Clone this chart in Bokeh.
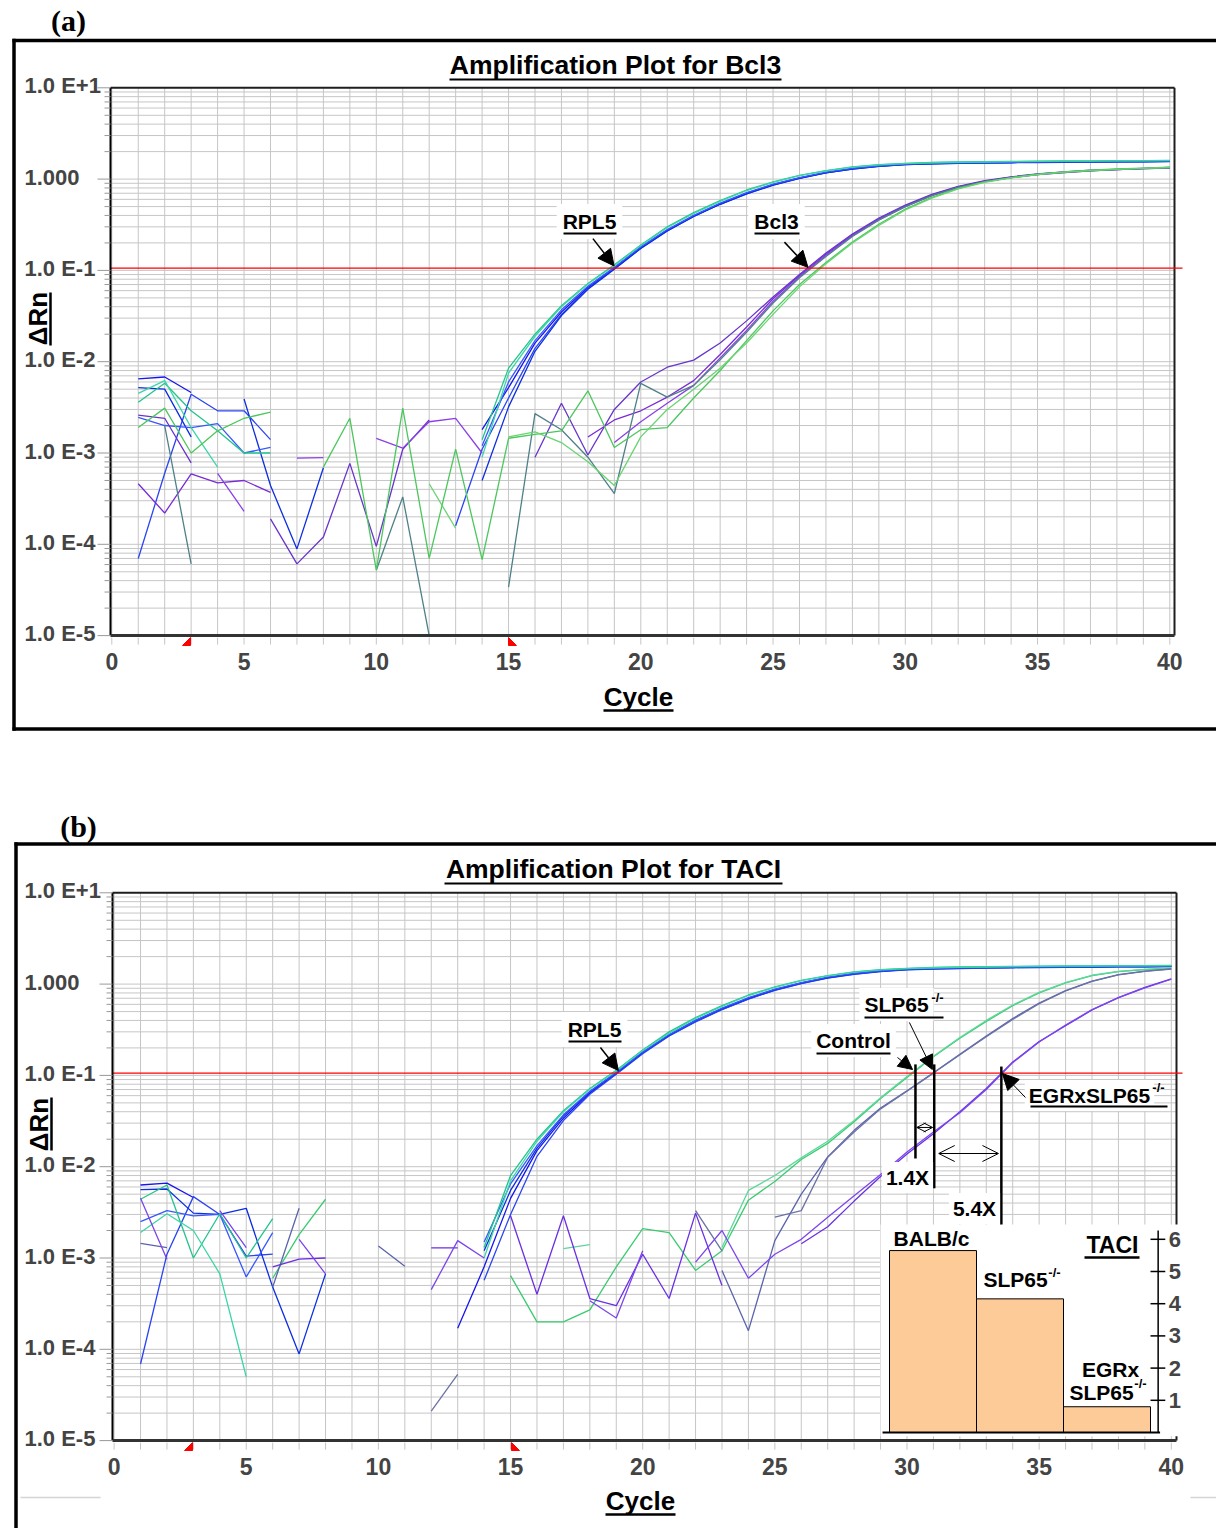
import math
import numpy as np
from bokeh.plotting import figure
from bokeh.layouts import column
from bokeh.models import (Arrow, Label, LinearScale, LogScale, NormalHead, OpenHead, Range1d)
from bokeh.embed import file_html
from bokeh.resources import INLINE

n = float("nan")  # negative readings are not drawn on the log axis

cycles = list(range(1, 41))
cycle_ticks = list(range(0, 41, 5))
cycle_minor = list(range(0, 41))
decades = [1e-5, 1e-4, 1e-3, 1e-2, 1e-1, 1e0, 1e1]
decade_labels = ["1.0 E-5", "1.0 E-4", "1.0 E-3", "1.0 E-2", "1.0 E-1", "1.000", "1.0 E+1"]
threshold = 0.106

# ---------------- (a) Bcl3 run: delta Rn per cycle 1..40 ----------------
a_rpl5_1 = [6.5e-3, 6.8e-3, 4.6e-3, n, n, n, n, n, n, n,
            n, n, n, 1.8e-3, 5.2e-3, 0.016, 0.035, 0.065, 0.106, 0.178,
            0.275, 0.395, 0.535, 0.70, 0.87, 1.03, 1.18, 1.30, 1.39, 1.45,
            1.48, 1.50, 1.51, 1.52, 1.53, 1.54, 1.54, 1.55, 1.55, 1.56]
a_rpl5_2 = [7.0e-5, 6.0e-4, 4.4e-3, 2.9e-3, 2.9e-3, 1.4e-3, n, n, n, n,
            n, n, 1.6e-4, 1.1e-3, 4.0e-3, 0.014, 0.033, 0.063, 0.104, 0.175,
            0.27, 0.39, 0.53, 0.69, 0.86, 1.02, 1.17, 1.29, 1.38, 1.44,
            1.47, 1.49, 1.50, 1.51, 1.52, 1.53, 1.53, 1.54, 1.54, 1.55]
a_rpl5_3 = [5.2e-3, 5.0e-3, 1.5e-3, n, 3.9e-3, 4.4e-4, 8.9e-5, 6.9e-4, n, n,
            n, n, n, 5.0e-4, 3.2e-3, 0.013, 0.032, 0.062, 0.103, 0.174,
            0.27, 0.39, 0.53, 0.69, 0.86, 1.02, 1.17, 1.29, 1.38, 1.44,
            1.47, 1.49, 1.51, 1.52, 1.53, 1.54, 1.55, 1.55, 1.56, 1.57]
a_rpl5_4 = [2.45e-3, 2.0e-3, 1.9e-3, 2.1e-3, 1.0e-3, 1.15e-3, n, n, n, n,
            n, n, n, 1.2e-3, 6.0e-3, 0.017, 0.037, 0.067, 0.108, 0.181,
            0.28, 0.40, 0.545, 0.71, 0.88, 1.04, 1.19, 1.31, 1.40, 1.46,
            1.49, 1.51, 1.52, 1.53, 1.54, 1.55, 1.55, 1.56, 1.57, 1.58]
a_rpl5_5 = [3.6e-3, 5.8e-3, 2.9e-3, 1.75e-3, 1.0e-3, 1.0e-3, n, n, n, n,
            n, n, n, 1.4e-3, 8.5e-3, 0.020, 0.041, 0.072, 0.115, 0.19,
            0.30, 0.43, 0.58, 0.76, 0.93, 1.10, 1.24, 1.36, 1.44, 1.49,
            1.52, 1.54, 1.55, 1.56, 1.57, 1.58, 1.58, 1.59, 1.59, 1.60]
a_rpl5_6 = [4.5e-3, 6.2e-3, 1.9e-3, 7.0e-4, n, n, n, n, n, n,
            n, n, n, 9.0e-4, 7.5e-3, 0.019, 0.040, 0.071, 0.113, 0.188,
            0.295, 0.42, 0.57, 0.75, 0.92, 1.09, 1.23, 1.35, 1.43, 1.48,
            1.51, 1.53, 1.54, 1.55, 1.56, 1.57, 1.57, 1.58, 1.58, 1.59]
a_bcl3_1 = [4.6e-4, 2.2e-4, 5.9e-4, 4.7e-4, 5.0e-4, 3.7e-4, n, n, n, n,
            n, n, n, n, n, n, n, 1.5e-3, 2.3e-3, 2.9e-3,
            4.1e-3, 6.2e-3, 0.012, 0.024, 0.049, 0.088, 0.15, 0.245, 0.365, 0.51,
            0.67, 0.82, 0.95, 1.05, 1.13, 1.19, 1.24, 1.27, 1.30, 1.32]
a_bcl3_2 = [2.6e-3, 2.4e-3, 7.8e-4, n, n, 1.9e-4, 6.1e-5, 1.2e-4, 7.7e-4, 9.5e-5,
            1.1e-3, 2.3e-3, n, n, n, 9.0e-4, 3.5e-3, 9.5e-4, 3.0e-3, 6.0e-3,
            8.7e-3, 0.0104, 0.016, 0.028, 0.051, 0.090, 0.155, 0.25, 0.375, 0.52,
            0.68, 0.83, 0.96, 1.06, 1.14, 1.20, 1.25, 1.28, 1.31, 1.34]
a_bcl3_3 = [n, n, n, 6.0e-4, 2.3e-4, n, 8.8e-4, 8.9e-4, n, 1.45e-3,
            1.13e-3, 2.2e-3, 2.4e-3, 1.0e-3, n, n, n, n, 1.3e-3, 2.2e-3,
            3.5e-3, 5.5e-3, 0.011, 0.022, 0.046, 0.085, 0.146, 0.24, 0.36, 0.50,
            0.66, 0.81, 0.94, 1.04, 1.12, 1.18, 1.23, 1.27, 1.30, 1.32]
a_bcl3_4 = [n, 2.0e-3, 6.1e-5, n, n, n, n, n, n, 5.2e-5,
            3.3e-4, 1.0e-5, n, n, 3.4e-5, 2.7e-3, 1.8e-3, 9.0e-4, 3.6e-4, 5.8e-3,
            4.1e-3, 5.5e-3, 0.0105, 0.021, 0.044, 0.083, 0.142, 0.235, 0.355, 0.50,
            0.66, 0.81, 0.94, 1.04, 1.12, 1.18, 1.23, 1.27, 1.30, 1.33]
a_bcl3_5 = [1.9e-3, 3.1e-3, 1.0e-3, 1.75e-3, 2.4e-3, 2.8e-3, n, 7.0e-4, 2.4e-3, 5.2e-5,
            3.1e-3, 7.0e-5, 1.1e-3, 6.8e-5, 1.45e-3, 1.6e-3, 1.75e-3, 4.8e-3, 1.15e-3, 1.8e-3,
            1.9e-3, 4.0e-3, 8.0e-3, 0.017, 0.036, 0.070, 0.122, 0.205, 0.32, 0.47,
            0.63, 0.79, 0.93, 1.04, 1.13, 1.20, 1.25, 1.29, 1.32, 1.35]
a_bcl3_6 = [n, n, n, n, n, n, n, n, n, n,
            n, 4.6e-4, 1.5e-4, n, 1.5e-3, 1.7e-3, 1.3e-3, 8.0e-4, 4.4e-4, 1.5e-3,
            3.0e-3, 5.0e-3, 8.5e-3, 0.016, 0.033, 0.066, 0.118, 0.20, 0.31, 0.46,
            0.62, 0.78, 0.92, 1.03, 1.12, 1.19, 1.24, 1.28, 1.31, 1.34]

a_curves = [a_rpl5_1, a_rpl5_2, a_rpl5_3, a_rpl5_4, a_rpl5_5, a_rpl5_6,
            a_bcl3_1, a_bcl3_2, a_bcl3_3, a_bcl3_4, a_bcl3_5, a_bcl3_6]
a_colors = ["#1515f0", "#2a44f2", "#0c2ee0", "#3858ff", "#22c48c", "#3bd6a8",
            "#7a2ad6", "#6834cc", "#8a40e6", "#4f8088", "#4cc75c", "#68d470"]

# ---------------- (b) TACI run: delta Rn per cycle 1..40 ----------------
b_rpl5_1 = [6.3e-3, 6.6e-3, 4.6e-3, n, n, n, n, n, n, n,
            n, n, 1.7e-4, 8.0e-4, 4.5e-3, 0.015, 0.034, 0.064, 0.105, 0.176,
            0.272, 0.39, 0.53, 0.69, 0.86, 1.02, 1.17, 1.29, 1.38, 1.44,
            1.47, 1.49, 1.51, 1.52, 1.53, 1.54, 1.54, 1.55, 1.55, 1.56]
b_rpl5_2 = [6.9e-5, 1.1e-3, 4.7e-3, 3.0e-3, 1.05e-3, 1.1e-3, n, n, n, n,
            n, n, n, 5.7e-4, 3.0e-3, 0.013, 0.032, 0.062, 0.103, 0.173,
            0.27, 0.385, 0.525, 0.685, 0.855, 1.01, 1.16, 1.28, 1.37, 1.43,
            1.46, 1.48, 1.50, 1.51, 1.52, 1.53, 1.53, 1.54, 1.54, 1.55]
b_rpl5_3 = [5.6e-3, 5.7e-3, 3.1e-3, 3.0e-3, 3.5e-3, 4.8e-4, 8.9e-5, 6.7e-4, n, n,
            n, n, n, 1.2e-3, 5.5e-3, 0.016, 0.036, 0.066, 0.107, 0.179,
            0.277, 0.40, 0.54, 0.70, 0.87, 1.03, 1.18, 1.30, 1.39, 1.45,
            1.48, 1.50, 1.52, 1.53, 1.54, 1.55, 1.55, 1.56, 1.56, 1.57]
b_rpl5_4 = [2.5e-3, 3.3e-3, 2.9e-3, 3.0e-3, 6.2e-4, 1.9e-3, n, n, n, n,
            n, n, n, 1.5e-3, 6.5e-3, 0.017, 0.037, 0.067, 0.108, 0.180,
            0.28, 0.40, 0.545, 0.71, 0.88, 1.04, 1.19, 1.31, 1.40, 1.46,
            1.49, 1.51, 1.52, 1.53, 1.54, 1.55, 1.56, 1.56, 1.57, 1.58]
b_rpl5_5 = [4.4e-3, 6.3e-3, 1.0e-3, 3.05e-3, 1.0e-3, 2.7e-3, n, n, n, n,
            n, n, n, 1.3e-3, 8.0e-3, 0.020, 0.041, 0.072, 0.114, 0.190,
            0.30, 0.43, 0.58, 0.76, 0.93, 1.10, 1.24, 1.36, 1.44, 1.49,
            1.52, 1.54, 1.55, 1.56, 1.57, 1.58, 1.58, 1.59, 1.59, 1.60]
b_rpl5_6 = [1.9e-3, 3.05e-3, 2.0e-3, 6.7e-4, 5.0e-5, n, n, n, n, n,
            n, n, n, 1.0e-3, 7.0e-3, 0.019, 0.040, 0.071, 0.112, 0.187,
            0.29, 0.42, 0.57, 0.75, 0.92, 1.09, 1.23, 1.35, 1.43, 1.48,
            1.51, 1.53, 1.54, 1.55, 1.56, 1.57, 1.57, 1.58, 1.58, 1.59]
b_ctl_1 = [n, n, n, n, n, 6.0e-4, 1.8e-3, 4.4e-3, n, n,
           n, n, n, n, 6.4e-4, 2.0e-4, 2.0e-4, 2.7e-4, 8.0e-4, 2.1e-3,
           1.9e-3, 7.3e-4, 1.2e-3, 4.3e-3, 6.9e-3, 0.012, 0.018, 0.031, 0.056, 0.095,
           0.16, 0.255, 0.39, 0.58, 0.80, 1.03, 1.24, 1.37, 1.44, 1.49]
b_ctl_2 = [n, n, n, n, n, n, n, n, n, n,
           n, n, n, n, n, n, 1.27e-3, 1.4e-3, n, n,
           n, n, 1.3e-3, 5.5e-3, 8.0e-3, 0.0125, 0.019, 0.032, 0.057, 0.097,
           0.162, 0.26, 0.40, 0.59, 0.81, 1.04, 1.25, 1.38, 1.45, 1.50]
b_slp_1 = [1.45e-3, 1.3e-3, n, n, n, 4.8e-4, 3.5e-3, n, n, 1.35e-3,
           8.1e-4, n, n, n, n, n, n, n, n, n,
           n, n, 7.3e-4, 1.6e-4, 1.55e-3, 5.0e-3, 0.0128, 0.025, 0.044, 0.068,
           0.107, 0.17, 0.27, 0.42, 0.62, 0.85, 1.08, 1.27, 1.39, 1.47]
b_slp_2 = [n, n, n, n, n, n, n, n, n, n,
           n, 2.1e-5, 5.3e-5, n, n, n, n, n, n, n,
           n, 3.3e-3, 1.2e-3, n, 2.8e-3, 3.3e-3, 0.0127, 0.024, 0.043, 0.067,
           0.106, 0.168, 0.265, 0.41, 0.61, 0.84, 1.07, 1.26, 1.38, 1.46]
b_egr_1 = [n, n, n, n, n, 8.0e-4, 9.7e-4, 1.0e-3, n, n,
           n, 1.29e-3, 1.29e-3, n, 2.9e-3, 4.0e-4, 2.9e-3, 3.6e-4, 3.0e-4, 1.1e-3,
           3.6e-4, 3.1e-3, 5.0e-4, n, n, 1.43e-3, 2.2e-3, 4.2e-3, 7.8e-3, 0.0138,
           0.023, 0.040, 0.072, 0.14, 0.235, 0.35, 0.52, 0.71, 0.92, 1.14]
b_egr_2 = [4.5e-3, 9.7e-4, n, 3.3e-3, 1.3e-3, n, 1.6e-3, 6.7e-4, n, n,
           n, 4.5e-4, 1.55e-3, 1.0e-3, n, n, n, 3.4e-4, 2.2e-4, 1.2e-3,
           n, 9.0e-4, 2.0e-3, 6.0e-4, 1.1e-3, 1.6e-3, 2.8e-3, 4.8e-3, 8.2e-3, 0.0145,
           0.024, 0.039, 0.070, 0.138, 0.232, 0.355, 0.525, 0.71, 0.91, 1.13]

b_curves = [b_rpl5_1, b_rpl5_2, b_rpl5_3, b_rpl5_4, b_rpl5_5, b_rpl5_6,
            b_ctl_1, b_ctl_2, b_slp_1, b_slp_2, b_egr_1, b_egr_2]
b_colors = ["#1515f0", "#2a44f2", "#0c2ee0", "#3858ff", "#22c48c", "#3bd6a8",
            "#3acb70", "#5cd79a", "#5b63ad", "#6b72a6", "#6a2fe2", "#7c45ec"]

# threshold cycles of the TACI groups
ct_control, ct_slp65, ct_egr = 30.32, 31.03, 33.57

# TACI relative expression (inset)
taci_groups = ["BALB/c", "SLP65-/-", "EGRxSLP65-/-"]
taci_level = [5.65, 4.15, 0.80]
taci_ticks = [1, 2, 3, 4, 5, 6]

FONT = "Liberation Sans"
SERIF = "Liberation Serif"
GRID = "#c6c6c6"
minor_logs = [m * 10.0 ** k for k in range(-5, 1) for m in range(2, 10)]
PX = dict(x_range_name="px", y_range_name="py")


class Panel:
    """One amplification plot. The frame fills the canvas; the log plot area is
    placed by the ranges, and page-pixel items use the 'px'/'py' ranges."""

    def __init__(self, top, height, x0, k, y_ten, dec, left, right):
        self.left, self.right = left, right
        self.y_bot = y_ten + 6 * dec
        self.x_lo, self.x_hi = (left - x0) / k, (right - x0) / k
        self.x0, self.k = x0, k
        p = figure(width=1216, height=height,
                   x_range=Range1d(-x0 / k, (1216 - x0) / k),
                   y_range=Range1d(10 ** (1 - (top + height - y_ten) / dec),
                                   10 ** (1 + (y_ten - top) / dec)),
                   y_axis_type="log", x_axis_location=None, y_axis_location=None,
                   output_backend="svg", toolbar_location=None, min_border=0, title=None)
        p.y_scale = LogScale()
        p.outline_line_color = None
        p.background_fill_color = "white"
        p.border_fill_color = "white"
        p.xgrid.visible = False
        p.ygrid.visible = False
        p.extra_x_ranges = {"px": Range1d(0, 1216)}
        p.extra_y_ranges = {"py": Range1d(top + height, top)}
        p.extra_x_scales = {"px": LinearScale()}
        p.extra_y_scales = {"py": LinearScale()}
        self.p = p

    def cyc(self, X):
        return (X - self.x0) / self.k

    def grid(self):
        p = self.p
        p.segment(x0=cycle_minor, y0=[1e-5] * len(cycle_minor), x1=cycle_minor,
                  y1=[10] * len(cycle_minor), line_color=GRID, line_width=1)
        ys = decades[1:-1] + minor_logs
        p.segment(x0=[self.x_lo] * len(ys), y0=ys, x1=[self.x_hi] * len(ys), y1=ys,
                  line_color=GRID, line_width=1)
        p.segment(x0=[self.x_lo, self.x_hi], y0=[10, 10], x1=[self.x_hi, self.x_hi],
                  y1=[10, 1e-5], line_color="#1e1e1e", line_width=2)

    def curves(self, series, colors, thr_right):
        p = self.p
        for vals, col in zip(series, colors):
            p.line(cycles, np.array(vals, dtype=float), line_color=col, line_width=1.3)
        p.segment(x0=[self.x_lo], y0=[threshold], x1=[self.cyc(thr_right)], y1=[threshold],
                  line_color="#ff0000", line_width=1.3)

    def axes(self):
        p = self.p
        p.segment(x0=[self.x_lo], y0=[1e-5], x1=[self.x_lo], y1=[10],
                  line_color="black", line_width=2)
        p.segment(x0=[self.x_lo], y0=[1e-5], x1=[self.x_hi], y1=[1e-5],
                  line_color="#333333", line_width=3)
        p.segment(x0=cycle_minor, y0=[self.y_bot + 2] * len(cycle_minor), x1=cycle_minor,
                  y1=[self.y_bot + 9] * len(cycle_minor), line_color=GRID, line_width=1,
                  y_range_name="py")
        p.segment(x0=[self.left - 13] * len(decades), y0=decades,
                  x1=[self.left] * len(decades), y1=decades,
                  line_color="#999999", line_width=1, x_range_name="px")
        p.segment(x0=[self.left - 6] * len(minor_logs), y0=minor_logs,
                  x1=[self.left] * len(minor_logs), y1=minor_logs,
                  line_color="#999999", line_width=1, x_range_name="px")
        for c in cycle_ticks:
            p.add_layout(Label(x=c, y=self.y_bot + 26, y_range_name="py", text=str(c),
                               text_font=FONT, text_font_style="bold", text_font_size="23px",
                               text_align="center", text_baseline="middle"))
        for v, s in zip(decades, decade_labels):
            p.add_layout(Label(x=24, x_range_name="px", y=v, text=s,
                               text_font=FONT, text_font_style="bold", text_font_size="22px",
                               text_align="left", text_baseline="middle", y_offset=2))

    def text(self, X, Y, s, size, font=FONT, align="center", angle=0.0, bg=None, pad=0):
        lab = Label(x=X, y=Y, text=s, text_font=font, text_font_style="bold",
                    text_font_size=f"{size}px", text_color="black", text_align=align,
                    text_baseline="middle", angle=angle, **PX)
        if bg is not None:
            lab.background_fill_color = bg
            lab.padding = pad
        self.p.add_layout(lab)

    def rule(self, X0, Y0, X1, Y1, width=2.0, color="black"):
        self.p.add_layout(Arrow(x_start=X0, y_start=Y0, x_end=X1, y_end=Y1, start=None,
                                end=None, line_color=color, line_width=width, **PX))

    def flag(self, xs, ys):
        self.p.patch(xs, ys, fill_color="red", line_color="red", line_width=1, **PX)

    def pointer(self, x0, y0, x1, y1, size=16, width=1.5):
        self.p.add_layout(Arrow(x_start=x0, y_start=y0, x_end=x1, y_end=y1,
                                end=NormalHead(size=size, fill_color="black",
                                               line_color="black"),
                                line_color="black", line_width=width))


# ================= panel (a) =================
A = Panel(top=0, height=786, x0=111.3, k=26.45, y_ten=87.3, dec=91.3, left=110, right=1174)
A.grid()
A.curves(a_curves, a_colors, thr_right=1182)
A.axes()
pa = A.p
pa.segment(x0=[13.5, 12, 12], y0=[38.3, 40, 728.5], x1=[13.5, 1216, 1216],
           y1=[730.2, 40, 728.5], line_color="black", line_width=3.5, **PX)
A.flag([182, 190, 190], [645, 645, 637])
A.flag([508, 508, 516], [637, 645, 645])
A.text(68, 20, "(a)", 30, font=SERIF)
A.text(615, 64, "Amplification Plot for Bcl3", 26.5)
A.rule(449, 79, 781, 79, 2)
A.text(37, 318, "\u0394Rn", 26, angle=math.pi / 2)
A.rule(50, 292, 50, 345, 2.5)
A.text(638, 696, "Cycle", 26)
A.rule(603, 710, 673, 710, 2.5)
A.text(589, 221, "RPL5", 21, bg="white", pad=6)
A.rule(563, 233, 616, 233, 2)
A.text(776, 221, "Bcl3", 21, bg="white", pad=6)
A.rule(754, 233, 799, 233, 2)
A.pointer(18.19, 0.223, 18.99, 0.112)
A.pointer(25.43, 0.204, 26.32, 0.108)

# ================= panel (b) =================
B = Panel(top=786, height=742, x0=113.6, k=26.43, y_ten=892.3, dec=91.3, left=112, right=1176)
B.grid()
B.curves(b_curves, b_colors, thr_right=1182)
B.axes()
pb = B.p

for ct, v_top, v_bot in [(ct_control, 0.132, 0.0123), (ct_slp65, 0.132, 5.8e-3),
                         (ct_egr, 0.125, 2.2e-3)]:
    pb.segment(x0=[ct], y0=[v_top], x1=[ct], y1=[v_bot], line_color="black", line_width=2.5)

# inset bar chart, mapped through its own linear ranges
BAR_X0, BAR_W = 889.0, 87.0     # page x of first bar's left edge, px per bar
BAR_Y0, BAR_U = 1432.0, 32.2    # page y of the zero line, px per unit
pb.extra_x_ranges["bx"] = Range1d((0 - BAR_X0) / BAR_W, (1216 - BAR_X0) / BAR_W)
pb.extra_y_ranges["by"] = Range1d((BAR_Y0 - 1528) / BAR_U, (BAR_Y0 - 786) / BAR_U)
pb.extra_x_scales["bx"] = LinearScale()
pb.extra_y_scales["by"] = LinearScale()
inset = dict(x_range_name="bx", y_range_name="by")
pb.quad(left=[-0.103], right=[3.33], bottom=[-0.12], top=[6.46],
        fill_color="white", line_color=None, **inset)
pb.vbar(x=np.arange(len(taci_level)) + 0.5, top=taci_level, width=1.0, bottom=0,
        fill_color="#fdcb97", line_color="black", line_width=1, **inset)
pb.segment(x0=[-0.08], y0=[0], x1=[3.11], y1=[0], line_color="black", line_width=2, **inset)
pb.segment(x0=[3.088], y0=[0], x1=[3.088], y1=[6.27], line_color="black", line_width=1.5, **inset)
pb.segment(x0=[3.0] * len(taci_ticks), y0=taci_ticks, x1=[3.17] * len(taci_ticks),
           y1=taci_ticks, line_color="black", line_width=1.5, **inset)
for t in taci_ticks:
    pb.add_layout(Label(x=3.21, y=t, text=str(t), text_font=FONT, text_font_style="bold",
                        text_font_size="22px", text_align="left", text_baseline="middle",
                        **inset))

pb.segment(x0=[15.5, 14], y0=[841.8, 843.5], x1=[15.5, 1216], y1=[1528, 843.5],
           line_color="black", line_width=3.5, **PX)
pb.segment(x0=[20, 1190], y0=[1497, 1497], x1=[100, 1216], y1=[1497, 1497],
           line_color="#d4d4d4", line_width=1.5, **PX)
B.flag([184, 192, 192], [1450, 1450, 1442])
B.flag([511, 511, 519], [1442, 1450, 1450])
B.text(78, 826, "(b)", 30, font=SERIF)
B.text(613, 868, "Amplification Plot for TACI", 26.5)
B.rule(444, 883, 782, 883, 2)
B.text(38, 1124, "\u0394Rn", 26, angle=math.pi / 2)
B.rule(51, 1097, 51, 1150, 2.5)
B.text(640, 1500, "Cycle", 26)
B.rule(605, 1514, 675, 1514, 2.5)

B.text(594, 1029, "RPL5", 21, bg="white", pad=6)
B.rule(568, 1041, 621, 1041, 2)
B.pointer(18.4, 0.202, 19.08, 0.113)

B.text(896, 1004, "SLP65", 21, bg="white", pad=5)
B.text(937, 997, "-/-", 13)
B.rule(864, 1017, 943, 1017, 2)
B.pointer(30.09, 0.38, 30.96, 0.116, size=14, width=1)

B.text(853, 1040, "Control", 21, bg="white", pad=5)
B.rule(816, 1053, 890, 1053, 2)
B.pointer(29.64, 0.157, 30.21, 0.116, size=14, width=1)

B.text(1089, 1095, "EGRxSLP65", 21, bg="white", pad=4)
B.text(1158, 1087, "-/-", 13)
B.rule(1030, 1106, 1167, 1106, 2)
B.pointer(34.48, 0.0573, 33.61, 0.105, size=16, width=1)

pb.add_layout(Arrow(x_start=30.37, y_start=0.0269, x_end=30.97, y_end=0.0269,
                    start=OpenHead(size=9, line_width=1), end=OpenHead(size=9, line_width=1),
                    line_width=1))
pb.add_layout(Arrow(x_start=31.2, y_start=0.01395, x_end=33.46, y_end=0.01395,
                    start=OpenHead(size=16, line_width=1), end=OpenHead(size=16, line_width=1),
                    line_width=1))
B.text(907, 1177, "1.4X", 21, bg="white", pad=4)
B.text(974, 1208, "5.4X", 21, bg="white", pad=4)

B.text(931, 1238, "BALB/c", 21)
B.text(1015, 1279, "SLP65", 21)
B.text(1054, 1272, "-/-", 13)
B.text(1110, 1369, "EGRx", 21)
B.text(1101, 1392, "SLP65", 21)
B.text(1140, 1383, "-/-", 13)
B.text(1112, 1244, "TACI", 23)
B.rule(1084, 1257, 1139, 1257, 2.5)

layout = column(pa, pb)
open("out.html", "w").write(file_html(layout, INLINE))
